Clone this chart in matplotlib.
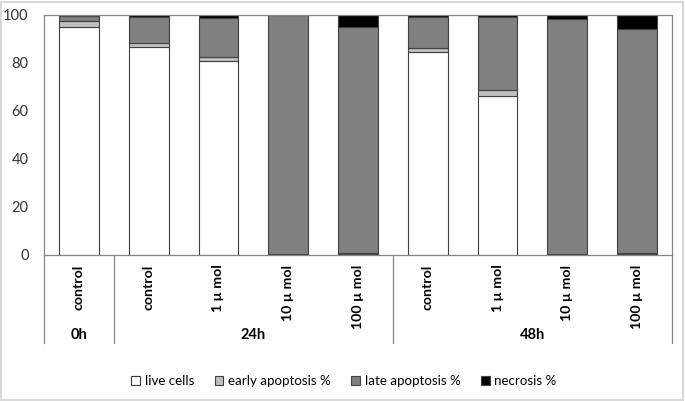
import matplotlib.pyplot as plt
import numpy as np

plt.rcParams['font.family'] = ['Lato', 'DejaVu Sans']

groups = ["0h", "24h", "48h"]
group_sizes = [1, 4, 4]
categories = ["control", "control", "1 \u00b5 mol", "10 \u00b5 mol", "100 \u00b5 mol",
              "control", "1 \u00b5 mol", "10 \u00b5 mol", "100 \u00b5 mol"]
live = [95.0, 86.5, 80.8, 0.3, 0.5, 84.7, 66.4, 0.3, 0.4]
early = [2.4, 2.0, 1.6, 0.2, 0.4, 1.4, 2.2, 0.2, 0.3]
late = [2.3, 10.8, 16.4, 99.5, 94.1, 13.2, 30.7, 97.8, 93.5]
necrosis = [0.3, 0.7, 1.2, 0.0, 5.0, 0.7, 0.7, 1.7, 5.8]

series = [("live cells", live, "#ffffff"),
          ("early apoptosis %", early, "#c0c0c0"),
          ("late apoptosis %", late, "#808080"),
          ("necrosis %", necrosis, "#000000")]

fig = plt.figure(figsize=(6.85, 4.01), dpi=100)
W, H = 685, 401
x0, x1, ytop, ybot = 44, 672, 15, 255
ax = fig.add_axes([x0 / W, 1 - ybot / H, (x1 - x0) / W, (ybot - ytop) / H])

x = np.arange(len(categories))
bottom = np.zeros(len(categories))
for name, vals, col in series:
    ax.bar(x, vals, 0.57, bottom=bottom, color=col, edgecolor="#404040",
           linewidth=0.8, label=name)
    bottom += np.array(vals)

ax.set_xlim(-0.5, len(categories) - 0.5)
ax.set_ylim(0, 100)
ax.set_yticks([0, 20, 40, 60, 80, 100])
ax.tick_params(axis="y", length=0, labelsize=10.5, colors="#333333", pad=11)
ax.set_xticks([])
for s in ax.spines.values():
    s.set_color("#868686")
    s.set_linewidth(0.9)

# category labels under the axis
for i, c in enumerate(categories):
    ax.text(i, -4, c, rotation=90, ha="center", va="top", fontsize=10.2,
            fontweight="bold", transform=ax.transData, clip_on=False)

# group labels and separators
ext = -(343 - ybot) / (ybot - ytop)
start = 0
bounds = [0]
for g, n in zip(groups, group_sizes):
    mid = start + n / 2
    ax.text(mid / len(categories), -(335 - ybot) / (ybot - ytop), g,
            ha="center", va="center", fontsize=10.5, fontweight="bold",
            transform=ax.transAxes, clip_on=False)
    start += n
    bounds.append(start)
for b in bounds:
    ax.plot([b / len(categories)] * 2, [0, ext], color="#868686", lw=0.9,
            transform=ax.transAxes, clip_on=False)

leg = fig.legend(loc="center", bbox_to_anchor=(344 / W, 1 - 381 / H), ncol=4,
                 frameon=False, fontsize=9.6, handlelength=0.65, handleheight=0.65,
                 handletextpad=0.35, columnspacing=1.55)

fig.patches.append(plt.Rectangle((0.002, 0.003), 0.995, 0.993, fill=False,
                                 edgecolor="#d9d9d9", lw=1.5,
                                 transform=fig.transFigure))

fig.savefig("out.png", dpi=100)
